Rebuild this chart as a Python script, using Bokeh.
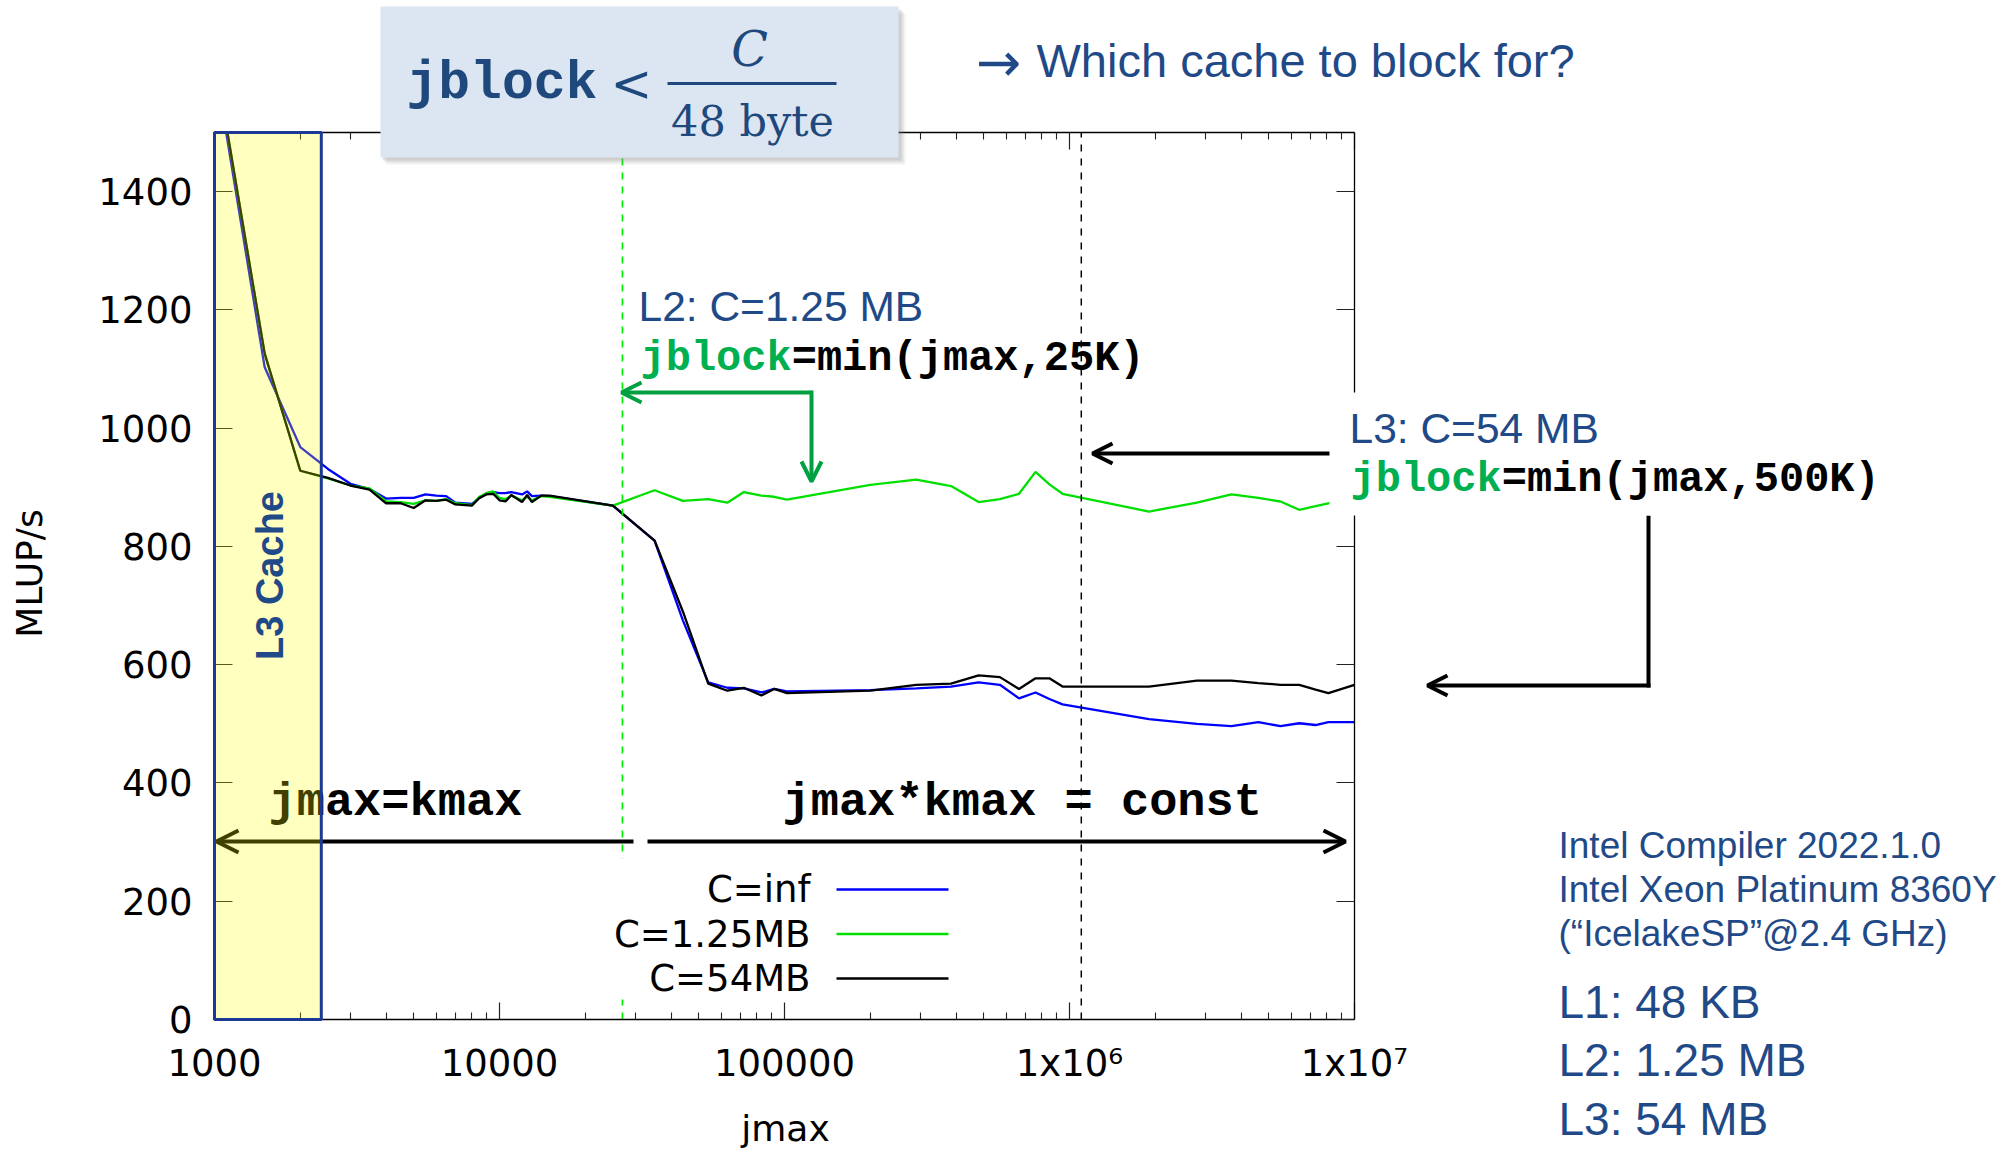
from math import pi
from bokeh.plotting import figure
from bokeh.models import (Range1d, FixedTicker, LogAxis, LinearAxis, Arrow,
                          OpenHead, Label, BoxAnnotation, CustomJSTickFormatter)
from bokeh.embed import file_html
from bokeh.resources import INLINE

# ---------------- data ----------------
jmax = [1000, 1500, 2000, 2500, 3000, 3500, 4000, 4500, 5000, 5500,
        6000, 6500, 7000, 8000, 8500, 9000, 9500, 10000, 10500, 11000,
        12000, 12500, 13000, 14000, 15000, 25000, 35000, 44000, 54000, 63000,
        72000, 83000, 92000, 102000, 200000, 290000, 384000, 480000, 570000, 665000,
        760000, 850000, 945000, 1900000, 2800000, 3700000, 4600000, 5500000, 6400000, 7300000,
        8100000, 10000000]

mlups_inf = [1620, 1103, 968, 931, 906, 897, 881, 882, 882, 888,
             886, 885, 874, 872, 882, 890, 892, 890, 890, 892,
             888, 893, 885, 886, 885, 869, 810, 675, 570, 561,
             560, 553, 559, 555, 557, 560, 563, 570, 566, 543,
             553, 542, 533, 508, 500, 496, 503, 496, 501, 498,
             503, 503]

mlups_l2 = [1630, 1126, 928, 915, 903, 898, 876, 875, 872, 878,
            877, 880, 873, 870, 884, 890, 893, 882, 880, 886,
            878, 884, 878, 885, 884, 869, 895, 877, 880, 874,
            892, 886, 884, 879, 904, 913, 902, 875, 880, 889,
            926, 905, 889, 859, 874, 888, 882, 876, 862, 868,
            873, 880]

mlups_l3 = [1630, 1126, 928, 916, 903, 896, 873, 873, 865, 878,
            877, 879, 871, 869, 882, 888, 889, 878, 876, 887,
            875, 887, 875, 886, 886, 869, 810, 690, 568, 556,
            561, 548, 559, 552, 556, 566, 568, 582, 579, 559,
            577, 577, 563, 563, 573, 573, 569, 566, 566, 558,
            552, 566]

series_names = ["C=inf", "C=1.25MB", "C=54MB"]
series_colors = ["#0000ff", "#00e000", "#000000"]

x_min, x_max = 1000, 10000000
y_min, y_max = 0, 1500
x_ticks = [1000, 10000, 100000, 1000000, 10000000]
x_tick_labels = ["1000", "10000", "100000", "1x10\u2076", "1x10\u2077"]
x_minor_ticks = [m * 10 ** k for k in range(3, 7) for m in range(2, 10)]
y_ticks = [0, 200, 400, 600, 800, 1000, 1200, 1400]

l2_jblock_limit = 27000      # 1.25 MB / 48 byte
l3_jblock_limit = 1100000    # 54 MB / 48 byte
l3_cache_region = [1000, 2370]

info_lines = ["Intel Compiler 2022.1.0", "Intel Xeon Platinum 8360Y",
              "(\u201cIcelakeSP\u201d@2.4 GHz)"]
cache_lines = ["L1: 48 KB", "L2: 1.25 MB", "L3: 54 MB"]

DARK_BLUE = "#1f4a87"
FORMULA_BLUE = "#1f497d"
CODE_GREEN = "#00b050"
ARROW_GREEN = "#00a040"

# ---------------- layout (page pixels) ----------------
W, H = 2000, 1148
FRAME_L, FRAME_T, FRAME_R, FRAME_B = 214, 132, 1354, 1019
PX_PER_DEC = (FRAME_R - FRAME_L) / 4.0
PX_PER_UNIT = (FRAME_B - FRAME_T) / float(y_max - y_min)

# the drawing area spans the whole canvas; the axes sit at the data box edges
x_lo = x_min / 10 ** (FRAME_L / PX_PER_DEC)
x_hi = x_max * 10 ** ((W - FRAME_R) / PX_PER_DEC)
y_lo = y_min - (H - FRAME_B) / PX_PER_UNIT
y_hi = y_max + FRAME_T / PX_PER_UNIT


def sx(px):
    return px


def sy(py):
    return H - py


p = figure(width=W, height=H, x_axis_type="log",
           x_range=Range1d(x_lo, x_hi), y_range=Range1d(y_lo, y_hi),
           output_backend="svg", toolbar_location=None,
           min_border=0, min_border_left=0, min_border_right=0,
           min_border_top=0, min_border_bottom=0)
p.xgrid.visible = False
p.ygrid.visible = False
p.outline_line_color = None
p.background_fill_color = "white"
p.border_fill_color = "white"

xticker = FixedTicker(ticks=x_ticks, minor_ticks=x_minor_ticks)
yticker = FixedTicker(ticks=y_ticks, minor_ticks=[])

bottom = p.xaxis[0]
left = p.yaxis[0]
bottom.ticker = xticker
left.ticker = yticker
bottom.major_label_overrides = dict(zip(x_ticks, x_tick_labels))

top = LogAxis(ticker=xticker, formatter=CustomJSTickFormatter(code="return ''"))
right = LinearAxis(ticker=yticker, formatter=CustomJSTickFormatter(code="return ''"))
p.add_layout(top, "above")
p.add_layout(right, "right")

bottom.fixed_location = y_min
top.fixed_location = y_max
left.fixed_location = x_min
right.fixed_location = x_max
for ax in (bottom, top):
    ax.bounds = (x_min, x_max)
    ax.major_tick_in = 17
    ax.major_tick_out = 0
    ax.minor_tick_in = 7
    ax.minor_tick_out = 0
    ax.minor_tick_line_color = "#222222"
    ax.minor_tick_line_width = 1.1
for ax in (left, right):
    ax.bounds = (y_min, y_max)
    ax.major_tick_in = 18
    ax.major_tick_out = 0
    ax.minor_tick_line_color = None
for ax in (bottom, top, left, right):
    ax.axis_line_color = "black"
    ax.axis_line_width = 1.3
    ax.major_tick_line_color = "#222222"
    ax.major_tick_line_width = 1.2
    ax.major_label_text_font = "DejaVu Sans"
    ax.major_label_text_font_size = "37px"
    ax.major_label_text_color = "black"
bottom.major_label_standoff = 22
left.major_label_standoff = 22

# ---------------- series ----------------
for ys, col in zip([mlups_inf, mlups_l2, mlups_l3], series_colors):
    p.line(jmax, ys, line_color=col, line_width=2.3)

# cache-size lines
p.segment(x0=[l2_jblock_limit], y0=[y_min], x1=[l2_jblock_limit], y1=[y_max],
          line_color="#00ee00", line_dash="7 7", line_width=1.7)
p.segment(x0=[l3_jblock_limit], y0=[y_min], x1=[l3_jblock_limit], y1=[y_max],
          line_color="black", line_dash="7 7", line_width=1.5)


# ---------------- helpers ----------------
def label(text, x, y, size, font="Liberation Sans", color="black", style="normal",
          align="left", baseline="middle", angle=0.0):
    p.add_layout(Label(text=text, x=sx(x), y=sy(y), x_units="screen", y_units="screen",
                       text_font=font, text_font_size=f"{size}px", text_color=color,
                       text_font_style=style, text_align=align, text_baseline=baseline,
                       angle=angle))


def arrow(x0, y0, x1, y1, color, width=4, head=True, size=20):
    end = OpenHead(size=size, line_color=color, line_width=width) if head else None
    p.add_layout(Arrow(x_start=sx(x0), y_start=sy(y0), x_end=sx(x1), y_end=sy(y1),
                       start_units="screen", end_units="screen",
                       line_color=color, line_width=width, end=end))


def box(x0, y0, x1, y1, fill, alpha=1.0):
    p.add_layout(BoxAnnotation(left=sx(x0), right=sx(x1), top=sy(y0), bottom=sy(y1),
                               left_units="screen", right_units="screen",
                               top_units="screen", bottom_units="screen",
                               fill_color=fill, fill_alpha=alpha, line_color=None))


# hide the part of the curves above the data box
p.add_layout(BoxAnnotation(left=x_lo, right=l3_cache_region[0] * 1.2, bottom=y_max, top=y_hi,
                           fill_color="white", fill_alpha=1.0, line_color=None))

# jmax=kmax / const annotation
label("jmax=kmax", 268, 802, 47, font="Liberation Mono", style="bold")
label("jmax*kmax = const", 782, 802, 47, font="Liberation Mono", style="bold")
arrow(633, 841, 216, 841, "black", size=22)
arrow(647, 841, 1345, 841, "black", size=22)

# L2 annotation
label("L2: C=1.25 MB", 638, 306, 42.5, color=DARK_BLUE)
label("jblock", 640, 358, 42, font="Liberation Mono", style="bold", color=CODE_GREEN)
label("=min(jmax,25K)", 640 + 6 * 0.6 * 42, 358, 42, font="Liberation Mono", style="bold")
arrow(811, 392, 621, 392, ARROW_GREEN)
arrow(811, 390, 811, 481, ARROW_GREEN)

# L3 arrows
arrow(1332, 453, 1092, 453, "black")
arrow(1648, 515, 1648, 687, "black", head=False)
arrow(1650, 685, 1427, 685, "black")

# legend
box(598, 858, 962, 999, "white")
for i, (name, col) in enumerate(zip(series_names, series_colors)):
    yy = 889 + 44.5 * i
    label(name, 810, yy, 37, font="DejaVu Sans", align="right")
    arrow(836, yy, 948, yy, col, width=2.5, head=False)

# L3 cache region overlay
p.add_layout(BoxAnnotation(left=l3_cache_region[0], right=l3_cache_region[1],
                           bottom=y_min, top=y_max,
                           fill_color="#ffff00", fill_alpha=0.25,
                           line_color="#1a3a94", line_width=3, line_alpha=1.0))
label("L3 Cache", 269, 575, 38, style="bold", color=DARK_BLUE, align="center", angle=pi / 2)

# L3 annotation (on white)
box(1329, 392, 1890, 515, "white")
label("L3: C=54 MB", 1349, 428, 42.5, color=DARK_BLUE)
label("jblock", 1350, 479, 42, font="Liberation Mono", style="bold", color=CODE_GREEN)
label("=min(jmax,500K)", 1350 + 6 * 0.6 * 42, 479, 42, font="Liberation Mono", style="bold")

# formula box with shadow
for off, a in [(7, 0.10), (5, 0.14), (3, 0.18)]:
    box(380 + off - 1, 6 + off, 898 + off, 157 + off, "#808080", a)
box(380, 6, 898, 157, "#dce6f2")
label("jblock", 406, 83, 53, font="Liberation Mono", style="bold", color=FORMULA_BLUE)
label("<", 631, 83, 50, font="DejaVu Serif", color=FORMULA_BLUE, align="center")
arrow(667, 83, 836, 83, FORMULA_BLUE, width=3, head=False)
label("C", 749, 48, 48, font="DejaVu Serif", style="italic", color=FORMULA_BLUE, align="center")
label("48 byte", 752, 120, 43, font="DejaVu Serif", color=FORMULA_BLUE, align="center")

label("\u2192", 998, 62, 54, font="DejaVu Sans", color=DARK_BLUE, align="center")
label("Which cache to block for?", 1036, 60, 47, color=DARK_BLUE)

# machine info
for i, t in enumerate(info_lines):
    label(t, 1558, 845 + 44 * i, 37, color=DARK_BLUE)
for i, t in enumerate(cache_lines):
    label(t, 1558, 1001 + 58.5 * i, 46, color=DARK_BLUE)

# axis titles
label("MLUP/s", 29, 573, 36, font="DejaVu Sans", align="center", angle=pi / 2)
label("jmax", 785, 1128, 36, font="DejaVu Sans", align="center")

open("out.html", "w").write(file_html(p, INLINE))
